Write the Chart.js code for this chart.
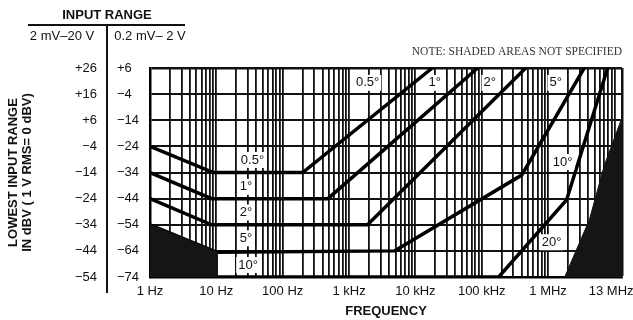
<!DOCTYPE html>
<html>
<head>
<meta charset="utf-8">
<script src="https://cdn.jsdelivr.net/npm/chart.js@4.4.0/dist/chart.umd.min.js"></script>
<style>
  html, body { margin: 0; padding: 0; background: #fff; }
</style>
</head>
<body>
<div id="g"><canvas id="c" width="633" height="320"></canvas></div>
<script>
// frequency axis (Hz) - labelled ticks
var freqTicks = [1, 10, 100, 1000, 10000, 100000, 1000000, 13000000];
var freqLabels = ['1 Hz', '10 Hz', '100 Hz', '1 kHz', '10 kHz', '100 kHz', '1 MHz', '13 MHz'];
// lowest input range, dBV : 0.2 mV - 2 V column and 2 mV - 20 V column
var rangeLow = [-74, -64, -54, -44, -34, -24, -14, -4, 6];
var rangeHigh = [-54, -44, -34, -24, -14, -4, 6, 16, 26];

// phase error curves (frequency Hz / dBV on the 0.2 mV - 2 V column)
var f05 = [1, 9, 200, 18000];
var db05 = [-24, -34, -34, 6];
var f1 = [1, 8.5, 480, 87000];
var db1 = [-34, -44, -44, 6];
var f2 = [1, 8.5, 1900, 460000];
var db2 = [-44, -54, -54, 6];
var f5 = [1, 10, 4900, 400000, 3500000];
var db5 = [-54, -64.5, -64, -35, 6];
var f10 = [10, 180000, 1900000, 7900000];
var db10 = [-74, -74, -44.5, 6];

// shaded areas (not specified)
var fShadeL = [1, 10.3, 10.3];
var dbShadeL = [-54, -64.5, -74];
var fShadeR = [1780000, 4200000, 7100000, 13000000];
var dbShadeR = [-74, -52, -31, -13];

// curve names
var tagText = ['0.5\u00b0', '1\u00b0', '2\u00b0', '5\u00b0', '10\u00b0', '0.5\u00b0', '1\u00b0', '2\u00b0', '5\u00b0', '10\u00b0', '20\u00b0'];
var tagF = [35, 28, 28, 28, 30, 1900, 19500, 132000, 1300000, 1660000, 1130000];
var tagDb = [-29.2, -39.5, -49.3, -59.2, -69.4, 0.3, 0.3, 0.3, 0.3, -30, -60.7];

function pts(f, db) {
    var out = [];
    for (var i = 0; i < f.length; i++) out.push({ x: f[i], y: db[i] });
    return out;
}

// all grid lines of the log axis: 1..9 in every decade up to 10 MHz, then 13 MHz
var gridF = [];
for (var n = 0; n < 7; n++) {
    for (var k = 1; k < 10; k++) gridF.push(k * Math.pow(10, n));
}
gridF.push(10000000);
gridF.push(13000000);

function signed(v) {
    if (v > 0) return '+' + v;
    if (v < 0) return '\u2212' + (-v);
    return '0';
}

var ink = '#111';
var sans = 'Liberation Sans, Arial, Helvetica, sans-serif';

function curve(f, db) {
    return {
        data: pts(f, db), borderColor: '#000', borderWidth: 3.5,
        pointRadius: 0, fill: false, tension: 0, yAxisID: 'y'
    };
}
function shade(f, db) {
    return {
        data: pts(f, db), borderColor: '#151515', borderWidth: 1, backgroundColor: '#151515',
        pointRadius: 0, fill: 'start', tension: 0, yAxisID: 'y'
    };
}

var extras = {
    id: 'extras',
    afterDatasetsDraw: function (chart) {
        var ctx = chart.ctx, xs = chart.scales.x, ys = chart.scales.y;
        ctx.save();
        ctx.font = '13px ' + sans;
        ctx.textAlign = 'center';
        ctx.textBaseline = 'middle';
        for (var i = 0; i < tagText.length; i++) {
            var x = xs.getPixelForValue(tagF[i]);
            var y = ys.getPixelForValue(tagDb[i]);
            var w = ctx.measureText(tagText[i]).width;
            ctx.fillStyle = '#fff';
            ctx.fillRect(x - w / 2 - 2, y - 8, w + 4, 16);
            ctx.fillStyle = ink;
            ctx.fillText(tagText[i], x, y);
        }
        ctx.restore();
    },
    afterDraw: function (chart) {
        var ctx = chart.ctx, ys = chart.scales.y, area = chart.chartArea;
        var divX = ys.left - 10;
        ctx.save();
        ctx.fillStyle = ink;
        ctx.strokeStyle = ink;
        ctx.textBaseline = 'middle';
        ctx.textAlign = 'center';
        ctx.font = 'bold 13px ' + sans;
        ctx.fillText('INPUT RANGE', divX, 15);
        ctx.lineWidth = 2;
        ctx.beginPath();
        ctx.moveTo(28, 25);
        ctx.lineTo(185, 25);
        ctx.moveTo(divX, 25);
        ctx.lineTo(divX, 293);
        ctx.stroke();
        ctx.font = '13px ' + sans;
        ctx.fillText('2 mV\u201320 V', divX - 45, 36);
        ctx.fillText('0.2 mV\u2013 2 V', divX + 43, 36);
        ctx.textAlign = 'right';
        ctx.fillStyle = '#333';
        ctx.font = '11.5px Liberation Serif, Times New Roman, serif';
        ctx.fillText('NOTE: SHADED AREAS NOT SPECIFIED', area.right, 52);
        ctx.restore();
    }
};

var ctx = document.getElementById('c').getContext('2d');
var c = new Chart(ctx, {
    type: 'line',
    data: {
        datasets: [
            shade(fShadeL, dbShadeL),
            shade(fShadeR, dbShadeR),
            curve(f05, db05),
            curve(f1, db1),
            curve(f2, db2),
            curve(f5, db5),
            curve(f10, db10)
        ]
    },
    options: {
        responsive: false,
        animation: false,
        devicePixelRatio: 1,
        layout: { padding: { top: 68, right: 11, left: 0, bottom: 0 } },
        plugins: { legend: { display: false }, tooltip: { enabled: false } },
        scales: {
            x: {
                type: 'logarithmic',
                min: 1,
                max: 13000000,
                afterBuildTicks: function (scale) {
                    scale.ticks = gridF.map(function (v) { return { value: v }; });
                },
                afterFit: function (scale) {
                    scale.height = 43;
                    scale.paddingLeft = 0;
                    scale.paddingRight = 0;
                },
                grid: {
                    color: ink,
                    lineWidth: function (c) { return c.tick && c.tick.value === 13000000 ? 2.5 : 1.8; },
                    drawTicks: false
                },
                border: { display: true, color: '#000', width: 2.5 },
                ticks: {
                    autoSkip: false, maxRotation: 0, minRotation: 0,
                    color: ink, padding: 7,
                    font: { family: sans, size: 13 },
                    callback: function (value) {
                        var i = freqTicks.indexOf(value);
                        if (i < 0) return '';
                        if (value === 13000000) return freqLabels[i] + '\u00a0\u00a0\u00a0\u00a0\u00a0\u00a0';
                        return freqLabels[i];
                    }
                },
                title: {
                    display: true, text: 'FREQUENCY', color: ink,
                    font: { family: sans, size: 13, weight: 'bold', lineHeight: 1.1 },
                    padding: { top: 0, bottom: 1 }
                }
            },
            y: {
                position: 'left',
                weight: 0,
                min: -74,
                max: 6,
                afterBuildTicks: function (scale) {
                    scale.ticks = rangeLow.map(function (v) { return { value: v }; });
                },
                afterFit: function (scale) { scale.width = 33; },
                grid: {
                    color: ink,
                    lineWidth: function (c) { return c.tick && c.tick.value === 6 ? 2.5 : 2; },
                    drawTicks: false
                },
                border: { display: true, color: '#000', width: 2.5 },
                ticks: {
                    crossAlign: 'far', padding: 0, color: ink,
                    font: { family: sans, size: 13 },
                    callback: function (v) { return signed(v); }
                }
            },
            y2: {
                position: 'left',
                weight: 1,
                min: -54,
                max: 26,
                afterBuildTicks: function (scale) {
                    scale.ticks = rangeHigh.map(function (v) { return { value: v }; });
                },
                afterFit: function (scale) { scale.width = 117; },
                grid: { display: false, drawTicks: false },
                border: { display: false },
                ticks: {
                    padding: 20, color: ink,
                    font: { family: sans, size: 13 },
                    callback: function (v) { return signed(v); }
                },
                title: {
                    display: true, color: ink,
                    text: ['LOWEST INPUT RANGE', 'IN dBV ( 1 V RMS= 0 dBV)'],
                    font: { family: sans, size: 13, weight: 'bold', lineHeight: 1.1 },
                    padding: { top: 6, bottom: 0 }
                }
            }
        }
    },
    plugins: [extras]
});
</script>
</body>
</html>
